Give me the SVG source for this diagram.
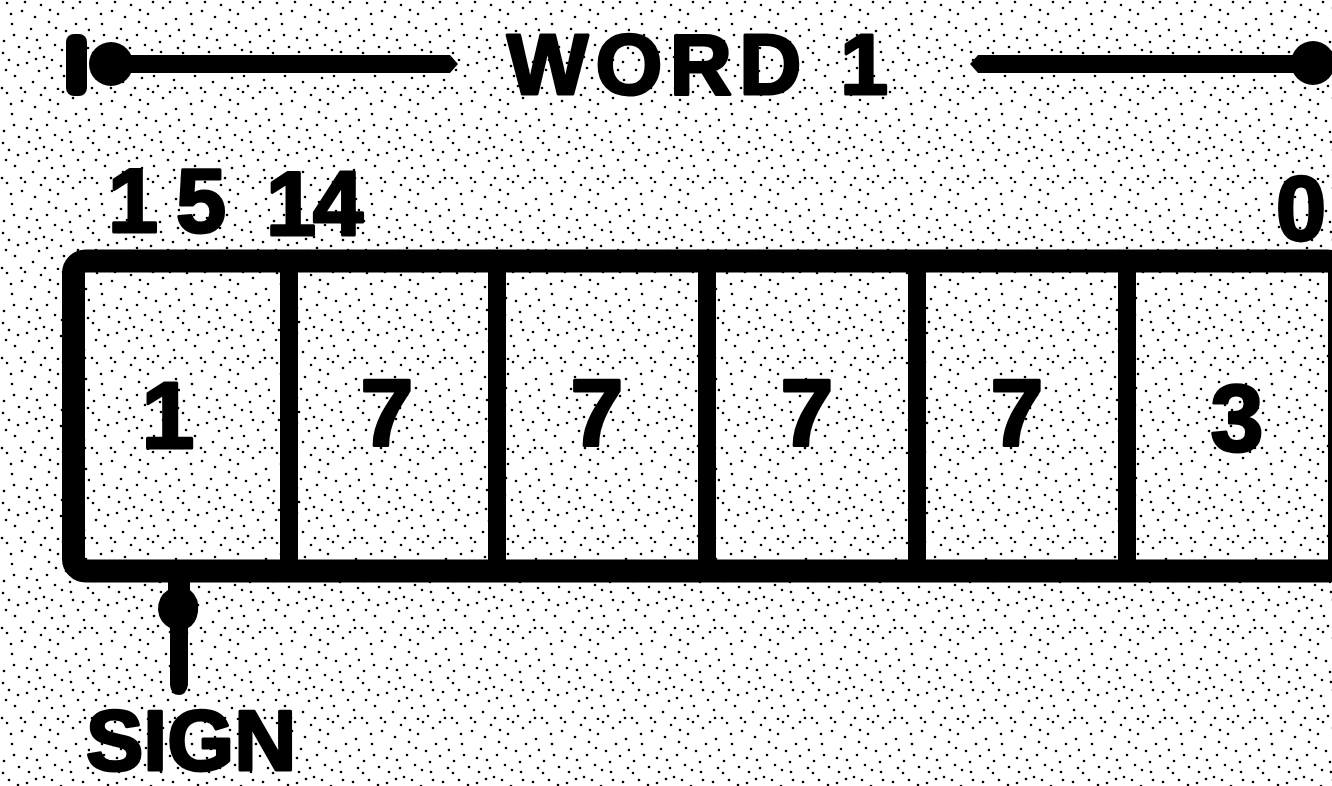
<svg xmlns="http://www.w3.org/2000/svg" width="1332" height="786" viewBox="0 0 1332 786">
<defs>
<pattern id="stip" width="90" height="90" patternUnits="userSpaceOnUse">
<rect width="90" height="90" fill="#ffffff"/>
<g fill="#000">
<circle cx="7" cy="3" r="1.3"/><circle cx="22" cy="11" r="1.3"/><circle cx="41" cy="5" r="1.3"/><circle cx="58" cy="14" r="1.3"/><circle cx="73" cy="8" r="1.3"/><circle cx="86" cy="19" r="1.3"/><circle cx="12" cy="24" r="1.3"/><circle cx="31" cy="29" r="1.3"/><circle cx="49" cy="22" r="1.3"/><circle cx="66" cy="31" r="1.3"/><circle cx="80" cy="36" r="1.3"/><circle cx="4" cy="41" r="1.3"/><circle cx="19" cy="47" r="1.3"/><circle cx="37" cy="40" r="1.3"/><circle cx="55" cy="45" r="1.3"/><circle cx="71" cy="52" r="1.3"/><circle cx="88" cy="48" r="1.3"/><circle cx="9" cy="60" r="1.3"/><circle cx="27" cy="63" r="1.3"/><circle cx="44" cy="57" r="1.3"/><circle cx="61" cy="66" r="1.3"/><circle cx="78" cy="70" r="1.3"/><circle cx="15" cy="76" r="1.3"/><circle cx="33" cy="82" r="1.3"/><circle cx="52" cy="78" r="1.3"/><circle cx="68" cy="86" r="1.3"/><circle cx="84" cy="80" r="1.3"/><circle cx="2" cy="88" r="1.3"/><circle cx="25" cy="2" r="1.3"/><circle cx="47" cy="35" r="1.3"/><circle cx="63" cy="2" r="1.3"/><circle cx="35" cy="17" r="1.3"/><circle cx="76" cy="24" r="1.3"/><circle cx="14" cy="35" r="1.3"/><circle cx="52" cy="60" r="1.3"/><circle cx="39" cy="71" r="1.3"/><circle cx="6" cy="70" r="1.3"/><circle cx="83" cy="62" r="1.3"/><circle cx="58" cy="89" r="1.3"/><circle cx="21" cy="88" r="1.3"/><circle cx="45" cy="88" r="1.3"/><circle cx="70" cy="42" r="1.3"/><circle cx="29" cy="52" r="1.3"/><circle cx="89" cy="30" r="1.3"/><circle cx="11" cy="14" r="1.3"/><circle cx="64" cy="76" r="1.3"/><circle cx="36" cy="59" r="1.3"/><circle cx="50" cy="10" r="1.3"/><circle cx="80" cy="2" r="1.3"/><circle cx="18" cy="65" r="1.3"/><circle cx="56" cy="28" r="1.3"/><circle cx="73" cy="60" r="1.3"/><circle cx="40" cy="48" r="1.3"/><circle cx="85" cy="88" r="1.3"/><circle cx="27" cy="38" r="1.3"/><circle cx="3" cy="53" r="1.3"/><circle cx="62" cy="50" r="1.3"/><circle cx="47" cy="68" r="1.3"/>
</g>
</pattern>
</defs>
<style>
.t{font-family:"Liberation Sans",Arial,sans-serif;font-weight:bold;fill:#000;stroke:#000;stroke-width:3;stroke-linejoin:round}
.lbl{font-size:90px}
.dig{font-size:95px;text-anchor:middle}
.frame{fill:none;stroke:#000;stroke-width:23}
.div{stroke:#000;stroke-width:18}
.ink{fill:#000}
</style>
<rect width="1332" height="786" fill="url(#stip)"/>

<g id="connectors">
<g id="word-arrow-left">
<rect class="ink" x="66" y="34" width="21" height="62" rx="8"/>
<circle class="ink" cx="111" cy="64" r="22"/>
<path class="ink" d="M111,55 L450,55 L458,64 L450,73 L111,73 Z"/>
</g>
<g id="word-arrow-right">
<path class="ink" d="M978,55 L1313,55 L1313,73 L978,73 L970,64 Z"/>
<circle class="ink" cx="1313" cy="63" r="22"/>
</g>
<g id="sign-pointer">
<path class="ink" d="M168,580 L190,580 L190,590 Q200,598 198,612 Q196,624 188,628 L188,685 Q186,695 179,695 Q171,695 170,685 L170,628 Q159,622 158,610 Q158,596 168,590 Z"/>
</g>
</g>

<g id="word-label"><text class="t" x="507" y="94" font-size="86" textLength="381" lengthAdjust="spacing">WORD 1</text></g>

<g id="bit-labels">
<text class="t lbl" x="108" y="232" letter-spacing="18">15</text>
<text class="t lbl" x="266" y="235" letter-spacing="-3">14</text>
<text class="t lbl" x="1301" y="240" text-anchor="middle">0</text>
</g>

<g id="register">
<rect class="frame" x="73.5" y="261" width="1266" height="310" rx="12"/>
<line class="div" x1="289" y1="265" x2="289" y2="565"/>
<line class="div" x1="497" y1="265" x2="497" y2="565"/>
<line class="div" x1="707" y1="265" x2="707" y2="565"/>
<line class="div" x1="917" y1="265" x2="917" y2="565"/>
<line class="div" x1="1127" y1="265" x2="1127" y2="565"/>
</g>

<g id="cell-0"><text class="t dig" x="168" y="448">1</text></g>
<g id="cell-1"><text class="t dig" x="387" y="446">7</text></g>
<g id="cell-2"><text class="t dig" x="597" y="446">7</text></g>
<g id="cell-3"><text class="t dig" x="807" y="446">7</text></g>
<g id="cell-4"><text class="t dig" x="1017" y="446">7</text></g>
<g id="cell-5"><text class="t dig" x="1237" y="451">3</text></g>

<g id="sign-label"><text class="t" x="86" y="770" font-size="86">SIGN</text></g>
</svg>
